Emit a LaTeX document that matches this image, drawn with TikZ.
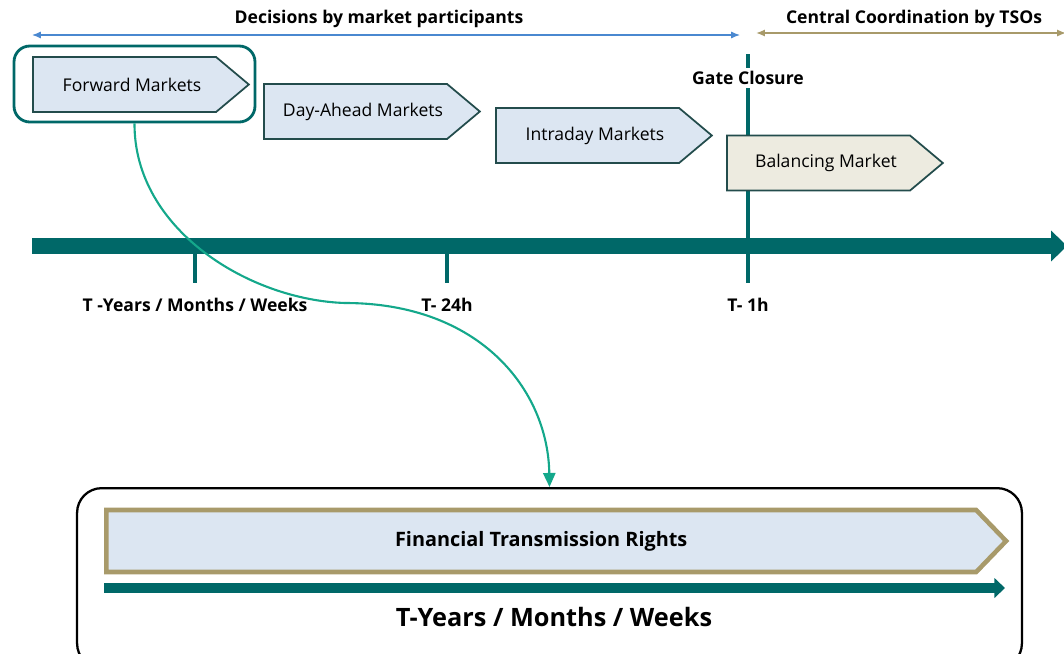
\documentclass[tikz,border=0pt]{standalone}
\usepackage{fontspec}
\setmainfont{Open Sans}
\usetikzlibrary{positioning,shapes.symbols,arrows.meta}

\definecolor{axisteal}{HTML}{006868}
\definecolor{linkgreen}{HTML}{14A88B}
\definecolor{scopeblue}{HTML}{4A88D0}
\definecolor{tsotan}{HTML}{A89A6A}
\definecolor{mktfill}{HTML}{DCE6F2}
\definecolor{balfill}{HTML}{EDEBE0}
\definecolor{mktedge}{HTML}{234C4C}

\tikzset{
  market/.style={shape=signal, signal to=east, signal pointer angle=80,
    draw=mktedge, line width=1pt, fill=mktfill, anchor=west,
    minimum width=4.32cm, minimum height=1.1cm, inner sep=0pt,
    font=\fontsize{10}{12}\selectfont, execute at begin node=\hspace*{0.3cm}},
  header/.style={font=\bfseries\fontsize{10}{12}\selectfont},
  ticklabel/.style={font=\bfseries\fontsize{10}{12}\selectfont, anchor=north},
  tick/.style={axisteal, line width=1.8pt},
}

\begin{document}
\begin{tikzpicture}[x=0.02cm, y=-0.02cm]
\useasboundingbox (0,0) rectangle (1064,653);

% scope of the decisions
\coordinate (dl) at (32,35);
\coordinate (dr) at (740,35);
\coordinate (cl) at (756,33);
\coordinate (cr) at (1066,33);
\draw[scopeblue, line width=0.7pt, {Latex[length=5pt,width=4pt]}-{Latex[length=5pt,width=4pt]}] (dl) -- (dr);
\draw[tsotan, line width=0.9pt, {Latex[length=5pt,width=4pt]}-{Latex[length=5pt,width=4pt]}] (cl) -- (cr);
\node[header] (dec) at (379,19) {Decisions by market participants};
\node[header] (cen) at (914,19) {Central Coordination by TSOs};

% gate closure
\coordinate (gtop) at (748,54);
\coordinate (gbot) at (748,283);
\draw[tick, line width=2pt] (gtop) -- (gbot);
\node[header, fill=white, inner xsep=12pt, inner ysep=2pt] (gate) at (748,78) {Gate Closure};

% markets
\node[draw=axisteal, line width=1.6pt, rounded corners=9pt, minimum width=4.82cm, minimum height=1.52cm] (fwdbox) at (134.5,84) {};
\node[market] (fwd) at (32,84.5) {Forward Markets};
\node[market] (dam) at (263,111.5) {Day-Ahead Markets};
\node[market] (idm) at (495,135.5) {Intraday Markets};
\node[market, fill=balfill] (bal) at (726,163) {Balancing Market};

% time axis
\coordinate (a0) at (32,246);
\coordinate (a1) at (1067,246);
\draw[axisteal, line width=9pt, -{Triangle[length=9pt,width=17pt]}] (a0) -- (a1);
\coordinate (t1) at (195,246);
\coordinate (t2) at (447,246);
\draw[tick] (t1) -- ++(0,37);
\draw[tick] (t2) -- ++(0,37);
\node[ticklabel] (l1) at (195,292) {T -Years / Months / Weeks};
\node[ticklabel] (l2) at (447,292) {T- 24h};
\node[ticklabel] (l3) at (748,292) {T- 1h};

% forward market detail
\node[draw=black, line width=1.3pt, rounded corners=14pt, minimum width=18.9cm, minimum height=3.6cm, anchor=north] (ftrbox) at (549.5,487) {};
\node[shape=signal, signal to=east, signal pointer angle=92, draw=tsotan, line width=2.6pt, fill=mktfill,
  anchor=west, minimum width=18.0cm, minimum height=1.24cm, inner sep=0pt,
  font=\bfseries\fontsize{11.3}{13}\selectfont] (ftr) at (104,541) {Financial Transmission Rights};
\coordinate (b0) at (104,588);
\coordinate (b1) at (1005,588);
\draw[axisteal, line width=5.5pt, -{Triangle[length=6pt,width=11pt]}] (b0) -- (b1);
\node[font=\bfseries\fontsize{14.4}{16}\selectfont] (ftrtime) at (554,617) {T-Years / Months / Weeks};

% link
\coordinate (bend) at (345,303);
\draw[linkgreen, line width=1.2pt] (fwdbox.south) .. controls (134,230) and (250,300) .. (bend);
\draw[linkgreen, line width=1.2pt, -{Triangle[length=8pt,width=7pt]}] (bend) .. controls (480,303) and (548,390) .. (ftrbox.north);
\end{tikzpicture}
\end{document}
